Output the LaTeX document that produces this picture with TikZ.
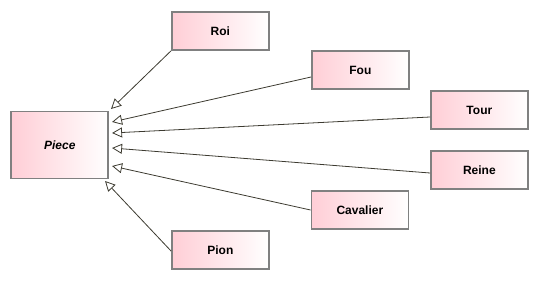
\documentclass[tikz,border=0pt]{standalone}
\usepackage{fontspec}
\setmainfont{Liberation Sans}
\usetikzlibrary{positioning,arrows.meta}

\definecolor{boxpink}{RGB}{255,206,214}
\definecolor{boxedge}{RGB}{128,128,128}
\definecolor{linkgray}{RGB}{60,58,48}

\tikzset{
    classbox/.style={draw=boxedge, line width=1.6pt, left color=boxpink, right color=white,
        minimum width=97pt, minimum height=38pt, inner sep=0pt,
        font=\fontsize{12}{14}\selectfont\bfseries},
    inherits/.style={draw=linkgray, line width=0.8pt,
        -{Triangle[open, length=10pt, width=10pt, line width=0.8pt]}},
}

\begin{document}
\begin{tikzpicture}[node distance=0pt]
    \useasboundingbox (0,0) rectangle (540pt,-281pt);
    \node [classbox, minimum height=67pt] at (59.75pt,-145pt) (piece) {\itshape Piece};
    \node [classbox, right=of piece, xshift=62pt, yshift=114pt] (roi) {Roi};
    \node [classbox, right=of piece, xshift=202pt, yshift=75pt] (fou) {Fou};
    \node [classbox, right=of piece, xshift=321pt, yshift=35pt] (tour) {Tour};
    \node [classbox, right=of piece, xshift=321pt, yshift=-25pt] (reine) {Reine};
    \node [classbox, right=of piece, xshift=201.5pt, yshift=-65pt] (cavalier) {Cavalier};
    \node [classbox, right=of piece, xshift=62pt, yshift=-105pt] (pion) {Pion};
    % generalisation arrows
    \draw [inherits] (roi.south west) -- ([xshift=2pt, yshift=36pt]piece.east);
    \draw [inherits] ([yshift=-7pt]fou.west) -- ([xshift=3pt, yshift=23pt]piece.east);
    \draw [inherits] ([yshift=-7pt]tour.west) -- ([xshift=3pt, yshift=12pt]piece.east);
    \draw [inherits] ([yshift=-3pt]reine.west) -- ([xshift=3pt, yshift=-3pt]piece.east);
    \draw [inherits] (cavalier.west) -- ([xshift=3pt, yshift=-21pt]piece.east);
    \draw [inherits] ([yshift=-1pt]pion.west) -- ([xshift=-4pt, yshift=-36pt]piece.east);
\end{tikzpicture}
\end{document}
